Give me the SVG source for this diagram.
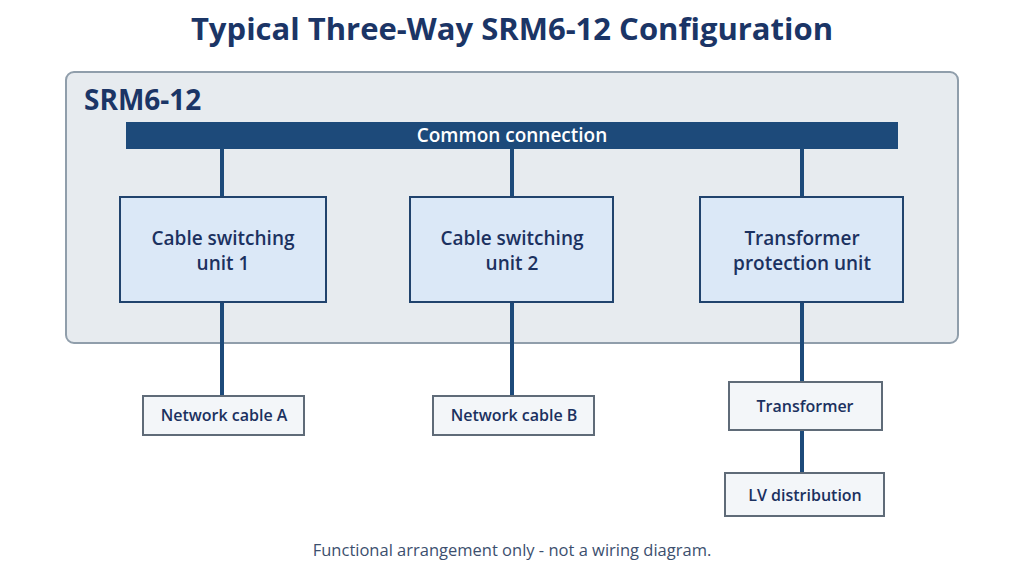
<svg xmlns="http://www.w3.org/2000/svg" width="1024" height="576" viewBox="0 0 1024 576">
<style>
.t{font-family:"Open Sans","Noto Sans","Liberation Sans",sans-serif;}
.title{font-size:31px;font-weight:700;fill:#1b3566;}
.unit{fill:#dbe8f7;stroke:#21436d;stroke-width:2;}
.ut{font-size:19px;fill:#1b3160;font-weight:600;}
.sm{fill:#f3f6f9;stroke:#5f6b78;stroke-width:2;}
.st{font-size:16px;fill:#1b3160;font-weight:600;}
.c{stroke:#1d4a7a;stroke-width:4;fill:none;}
</style>
<rect width="1024" height="576" fill="#ffffff"/>
<text class="t title" x="512" y="40" text-anchor="middle">Typical Three-Way SRM6-12 Configuration</text>
<g id="container">
<rect x="66" y="72" width="892" height="271" rx="8" fill="#e7ebef" stroke="#909eab" stroke-width="2"/>
<text class="t" x="84" y="110" font-size="28" font-weight="700" fill="#1b3566">SRM6-12</text>
</g>
<g id="connectors">
<line class="c" x1="222" y1="148" x2="222" y2="397"/>
<line class="c" x1="512" y1="148" x2="512" y2="397"/>
<line class="c" x1="802" y1="148" x2="802" y2="474"/>
</g>
<g id="common">
<rect x="126" y="122" width="772" height="27" fill="#1d4a7a"/>
<text class="t" x="512" y="142" text-anchor="middle" font-size="19" font-weight="600" fill="#ffffff">Common connection</text>
</g>
<g id="unit1">
<rect class="unit" x="120" y="197" width="206" height="105"/>
<text class="t ut" x="223" y="245" text-anchor="middle">Cable switching</text>
<text class="t ut" x="223" y="270" text-anchor="middle">unit 1</text>
</g>
<g id="unit2">
<rect class="unit" x="410" y="197" width="203" height="105"/>
<text class="t ut" x="512" y="245" text-anchor="middle">Cable switching</text>
<text class="t ut" x="512" y="270" text-anchor="middle">unit 2</text>
</g>
<g id="unit3">
<rect class="unit" x="700" y="197" width="203" height="105"/>
<text class="t ut" x="802" y="245" text-anchor="middle">Transformer</text>
<text class="t ut" x="802" y="270" text-anchor="middle">protection unit</text>
</g>
<g id="cableA">
<rect class="sm" x="143" y="396" width="161" height="39"/>
<text class="t st" x="224" y="421" text-anchor="middle">Network cable A</text>
</g>
<g id="cableB">
<rect class="sm" x="433" y="396" width="161" height="39"/>
<text class="t st" x="514" y="421" text-anchor="middle">Network cable B</text>
</g>
<g id="transformer">
<rect class="sm" x="729" y="382" width="153" height="48"/>
<text class="t st" x="805" y="412" text-anchor="middle">Transformer</text>
</g>
<g id="lv">
<rect class="sm" x="725" y="473" width="159" height="43"/>
<text class="t st" x="805" y="501" text-anchor="middle">LV distribution</text>
</g>
<text class="t" x="512" y="556" text-anchor="middle" font-size="16.5" fill="#3c4f6e">Functional arrangement only - not a wiring diagram.</text>
</svg>
